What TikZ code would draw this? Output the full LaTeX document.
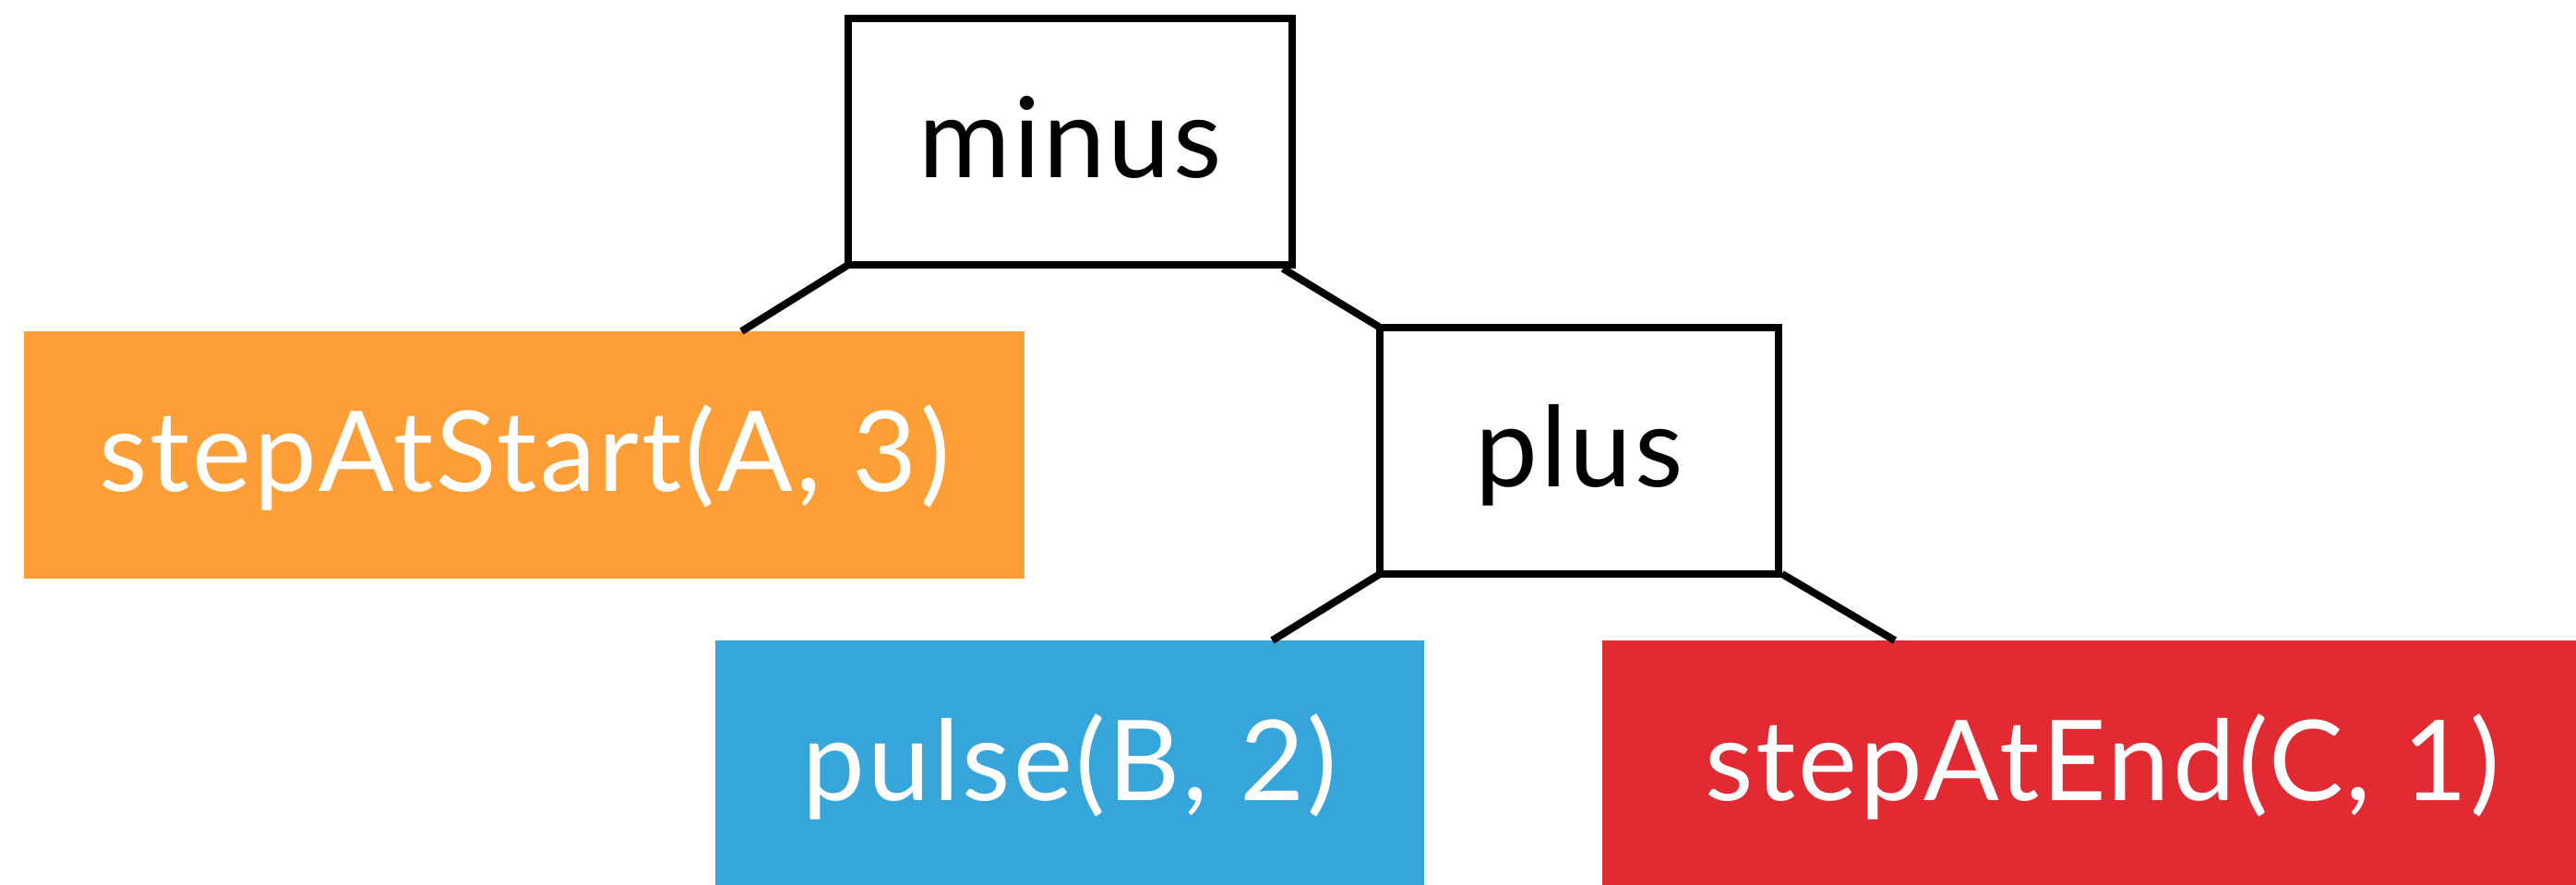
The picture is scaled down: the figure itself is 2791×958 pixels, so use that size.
\documentclass[tikz,border=0pt]{standalone}
\usepackage{fontspec}
\setmainfont[LetterSpace=2.5]{Lato}
\usetikzlibrary{calc}
\definecolor{opOrange}{HTML}{FE9E36}
\definecolor{opBlue}{HTML}{36A5DA}
\definecolor{opRed}{HTML}{E22A33}
\tikzset{
  base/.style={inner sep=0pt, outer sep=0pt, text height=78pt, text depth=0pt,
    font=\fontsize{121}{130}\selectfont},
  opbox/.style={base, draw=black, line width=8pt, fill=white},
  leafbox/.style={base, text=white, minimum height=268pt},
  link/.style={draw=black, line width=8pt}
}
\begin{document}
\begin{tikzpicture}[x=1pt, y=-1pt]
  \useasboundingbox (0,0) rectangle (2791,958);
  % operator nodes
  \node[opbox, minimum width=481pt, minimum height=267pt] (minus) at (1159.5,153.5) {minus};
  \node[opbox, minimum width=431.5pt, minimum height=267pt] (plus) at (1711,488.4) {plus};
  % leaf nodes
  \node[leafbox, fill=opOrange, minimum width=1084.5pt] (startA) at (568.2,493) {stepAtStart(A, 3)};
  \node[leafbox, fill=opBlue, minimum width=768.5pt] (pulseB) at (1159.2,828) {pulse(B, 2)};
  \node[leafbox, fill=opRed, minimum width=1084pt] (endC) at (2278,828) {stepAtEnd(C, 1)};
  % tree edges
  \draw[link] (minus.south west) -- ($(startA.north east)+(-307,0)$);
  \draw[link] ($(minus.south east)+(-10,4)$) -- (plus.north west);
  \draw[link] (plus.south west) -- ($(pulseB.north east)+(-165,0)$);
  \draw[link] ($(plus.south east)+(4,0)$) -- ($(endC.north west)+(317,0)$);
\end{tikzpicture}
\end{document}
